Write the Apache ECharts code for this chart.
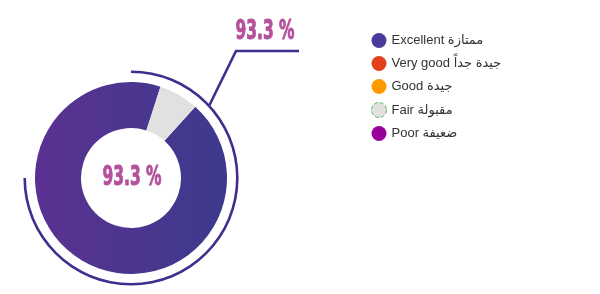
<!DOCTYPE html>
<html><head><meta charset="utf-8">
<script src="https://cdn.jsdelivr.net/npm/echarts@6/dist/echarts.min.js"></script>
<style>html,body{margin:0;padding:0;background:#fff}#c{width:600px;height:294px}</style>
</head><body><div id="c"></div>
<script>
const categories = ['Excellent ممتازة', 'Very good جيدة جداً', 'Good جيدة', 'Fair مقبولة', 'Poor ضعيفة'];
const values = [93.3, 0, 0, 6.7, 0];
const legendColors = ['#4b3a99', '#e2401b', '#ff9900', '#e1e1e1', '#990099'];
const headline = 93.3;
const arcShare = [75, 25];

const chart = echarts.init(document.getElementById('c'));
const grad = new echarts.graphic.LinearGradient(0, 0, 1, 0, [
  {offset: 0, color: '#5b3192'},
  {offset: 1, color: '#3c3a8d'}
]);
const sliceColors = [grad, '#e2401b', '#ff9900', '#e1e1e1', '#990099'];
const labelFont = 'bold 26px "DejaVu Sans Condensed", sans-serif';
chart.setOption({
  animation: false,
  legend: {
    orient: 'vertical',
    left: 366,
    top: 28,
    icon: 'circle',
    itemWidth: 15,
    itemHeight: 15,
    itemGap: 8,
    textStyle: {fontSize: 13, color: '#333', fontFamily: '"Liberation Sans", "DejaVu Sans", sans-serif'},
    data: categories.map((n, i) => ({
      name: n,
      itemStyle: i === 3 ? {color: legendColors[i], borderColor: '#5cb85c', borderWidth: 1, borderType: 'dashed'}
                         : {color: legendColors[i], borderWidth: 0}
    }))
  },
  series: [
    {
      type: 'pie',
      center: [131, 178],
      radius: [50, 96],
      startAngle: 48,
      clockwise: true,
      silent: true,
      label: {show: false},
      labelLine: {show: false},
      data: categories.map((n, i) => ({name: n, value: values[i], itemStyle: {color: sliceColors[i]}}))
    },
    {
      type: 'pie',
      center: [131, 178],
      radius: [105, 107.6],
      startAngle: 90,
      clockwise: true,
      silent: true,
      label: {show: false},
      labelLine: {show: false},
      data: [
        {name: 'arc', value: arcShare[0], itemStyle: {color: '#3f2e8e'}},
        {name: 'gap', value: arcShare[1], itemStyle: {color: 'rgba(0,0,0,0)'}}
      ]
    }
  ],
  graphic: [
    {
      type: 'polyline',
      shape: {points: [[209, 106], [236, 51], [299, 51]]},
      style: {stroke: '#3f2e8e', lineWidth: 2.6, fill: null}
    },
    {
      type: 'text', x: 265, y: 32, scaleX: 0.66,
      style: {text: headline + ' %', font: labelFont, fill: '#b4509c', stroke: '#b4509c', lineWidth: 0.9, align: 'center', verticalAlign: 'middle'}
    },
    {
      type: 'text', x: 132, y: 178, scaleX: 0.66,
      style: {text: headline + ' %', font: labelFont, fill: '#b4509c', stroke: '#b4509c', lineWidth: 0.9, align: 'center', verticalAlign: 'middle'}
    }
  ]
});
</script></body></html>
